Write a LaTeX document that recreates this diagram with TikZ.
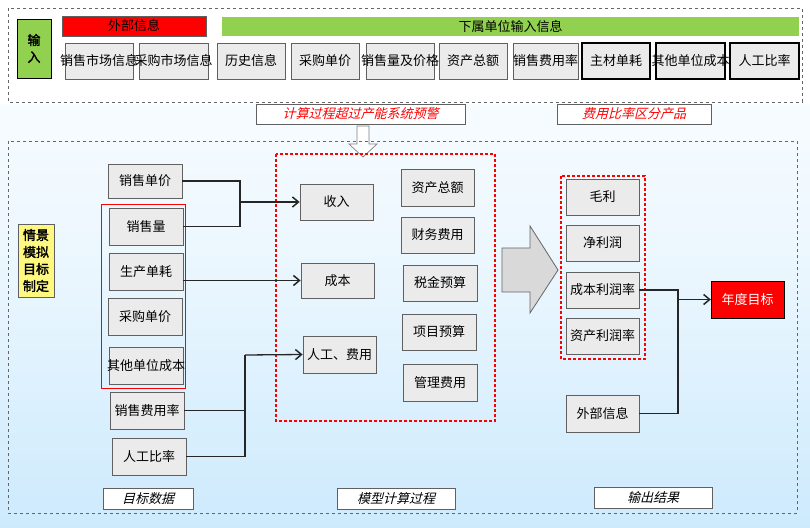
\documentclass[tikz,border=0pt]{standalone}
\usepackage{fontspec}
\setmainfont{Noto Sans CJK SC}
\newfontfamily\cjkit[FakeSlant=0.25]{Noto Sans CJK SC}
\newfontfamily\cjkbf[FakeBold=2]{Noto Sans CJK SC}
\usetikzlibrary{arrows.meta}
\definecolor{bx}{HTML}{EBEBEB}
\definecolor{bd}{HTML}{606060}
\definecolor{gr}{HTML}{92D050}
\definecolor{lb}{HTML}{CDEAFD}
\begin{document}
\begin{tikzpicture}[x=1pt,y=-1pt,
 box/.style={draw=bd,fill=bx,line width=0.8pt,font=\fontsize{13}{15}\selectfont},
 lab/.style={draw=bd,fill=white,line width=0.7pt,font=\cjkit\fontsize{13}{15}\selectfont},
 con/.style={line width=1.3pt,draw=black!85},
 arr/.style={con,-{Straight Barb[length=6pt,width=10pt,line width=1.5pt]}},
 dashbox/.style={draw=black!60,dashed,line width=0.6pt},
 rdot/.style={draw=red,line width=2.2pt,dash pattern=on 3pt off 2pt}]
\useasboundingbox (0,0) rectangle (810,527);
\shade[top color=white,bottom color=lb,middle color=lb!40] (0,0) rectangle (810,527);
\fill[white] (0,0) rectangle (810,104);
% top panel
\draw[dashbox] (8,8) rectangle (802,102);
\node[draw=black,fill=gr,minimum width=34pt,minimum height=59pt,inner sep=0pt,font=\cjkbf\fontsize{13}{17}\selectfont,align=center] (in) at (34,48.5) {输\\入};
\node[draw=bd,fill=red,minimum width=144pt,minimum height=20pt,inner sep=0pt,font=\fontsize{13}{15}\selectfont] (ext) at (134,26) {外部信息};
\node[fill=gr,minimum width=577pt,minimum height=19pt,inner sep=0pt,font=\fontsize{13}{15}\selectfont] (sub) at (510.5,26.5) {下属单位输入信息};
\foreach \n/\a/\b/\t in {t1/65/133/销售市场信息,t2/139/208/采购市场信息,t3/217/285/历史信息,t4/291/359/采购单价,t5/366/434/销售量及价格,t6/439/507/资产总额,t7/513/578/销售费用率}{
 \node[box,minimum width=\b-\a,minimum height=36pt,inner sep=0pt] (\n) at ({(\a+\b)/2},61) {\makebox[0pt]{\t}};}
\foreach \n/\a/\b/\t in {t8/582/650/主材单耗,t9/656/725/其他单位成本,t10/730/799/人工比率}{
 \node[box,draw=black,line width=1.2pt,minimum width=\b-\a,minimum height=36pt,inner sep=0pt] (\n) at ({(\a+\b)/2},61) {\makebox[0pt]{\t}};}
% labels
\node[lab,text=red,minimum width=209pt,minimum height=20pt,inner sep=0pt] (l1) at (360.5,114) {计算过程超过产能系统预警};
\node[lab,text=red,minimum width=154pt,minimum height=20pt,inner sep=0pt] (l2) at (634,114) {费用比率区分产品};
\draw[draw=black!50,fill=white,line width=0.7pt] (357,126)--(369,126)--(369,144)--(377,144)--(363,157)--(349,144)--(357,144)--cycle;
% lower panel
\draw[dashbox] (8,141) rectangle (797,513);
\node[draw=bd,fill=yellow!50,minimum width=36pt,minimum height=73pt,inner sep=0pt,font=\cjkbf\fontsize{13}{17}\selectfont,align=center] (qj) at (36,260.5) {情景\\模拟\\目标\\制定};
\draw[red,line width=0.7pt] (101,204) rectangle (185,388);
\node[box,minimum width=74pt,minimum height=34pt,inner sep=0pt] (a1) at (145,181) {销售单价};
\node[box,minimum width=74pt,minimum height=37pt,inner sep=0pt] (a2) at (146,226.5) {销售量};
\node[box,minimum width=74pt,minimum height=37pt,inner sep=0pt] (a3) at (146,271.5) {生产单耗};
\node[box,minimum width=74pt,minimum height=37pt,inner sep=0pt] (a4) at (145,316.5) {采购单价};
\node[box,minimum width=74pt,minimum height=37pt,inner sep=0pt] (a5) at (146,365.5) {\makebox[0pt]{其他单位成本}};
\node[box,minimum width=74pt,minimum height=37pt,inner sep=0pt] (a6) at (147,410.5) {\makebox[0pt]{销售费用率}};
\node[box,minimum width=74pt,minimum height=37pt,inner sep=0pt] (a7) at (149,456.5) {人工比率};
\draw[rdot] (276,154) rectangle (495,421);
\node[box,minimum width=73pt,minimum height=36pt,inner sep=0pt] (b1) at (336.5,202) {收入};
\node[box,minimum width=73pt,minimum height=35pt,inner sep=0pt] (b2) at (337.5,280.5) {成本};
\node[box,minimum width=73pt,minimum height=37pt,inner sep=0pt] (b3) at (339.5,354.5) {\makebox[0pt]{人工、费用}};
\node[box,minimum width=73pt,minimum height=37pt,inner sep=0pt] (c1) at (437.5,187.5) {资产总额};
\node[box,minimum width=73pt,minimum height=36pt,inner sep=0pt] (c2) at (437.5,235) {财务费用};
\node[box,minimum width=74pt,minimum height=36pt,inner sep=0pt] (c3) at (440,283) {税金预算};
\node[box,minimum width=74pt,minimum height=36pt,inner sep=0pt] (c4) at (439,332) {项目预算};
\node[box,minimum width=74pt,minimum height=37pt,inner sep=0pt] (c5) at (440,382.5) {管理费用};
\draw[draw=black!60,fill=black!15,line width=0.8pt] (502,248)--(530,248)--(530,226)--(558,270)--(530,313)--(530,292)--(502,292)--cycle;
\draw[rdot] (561,176) rectangle (645,359);
\node[box,minimum width=73pt,minimum height=36pt,inner sep=0pt] (d1) at (602.5,197) {毛利};
\node[box,minimum width=73pt,minimum height=36pt,inner sep=0pt] (d2) at (602.5,243) {净利润};
\node[box,minimum width=73pt,minimum height=36pt,inner sep=0pt] (d3) at (602.5,290) {\makebox[0pt]{成本利润率}};
\node[box,minimum width=73pt,minimum height=36pt,inner sep=0pt] (d4) at (602.5,336) {\makebox[0pt]{资产利润率}};
\node[box,minimum width=73pt,minimum height=37pt,inner sep=0pt] (d5) at (602.5,413.5) {外部信息};
\node[draw=black,fill=red,text=white,minimum width=73pt,minimum height=37pt,inner sep=0pt,font=\fontsize{13}{15}\selectfont] (goal) at (747.5,299.5) {年度目标};
\node[lab,minimum width=90pt,minimum height=21pt,inner sep=0pt] (m1) at (148,498.5) {目标数据};
\node[lab,minimum width=118pt,minimum height=21pt,inner sep=0pt] (m2) at (396,498.5) {模型计算过程};
\node[lab,minimum width=118pt,minimum height=21pt,inner sep=0pt] (m3) at (653,497.5) {输出结果};
% connectors
\coordinate (j1) at (240,202);
\draw[con] (a1.east) -| (j1);
\draw[con] (a2.east) -| (j1);
\draw[arr] (j1) -- (b1.west);
\draw[arr] (a3.east |- b2.west) -- (b2.west);
\coordinate (j2) at (245,355);
\draw[con] (a6.east) -| (j2);
\draw[con] (a7.east) -| (j2);
\draw[arr] (j2) -- (b3.west);
\coordinate (j3) at (678,299.5);
\draw[con] (d3.east) -| (j3);
\draw[con] (d5.east) -| (j3);
\draw[arr] (j3) -- (goal.west);
\end{tikzpicture}
\end{document}
